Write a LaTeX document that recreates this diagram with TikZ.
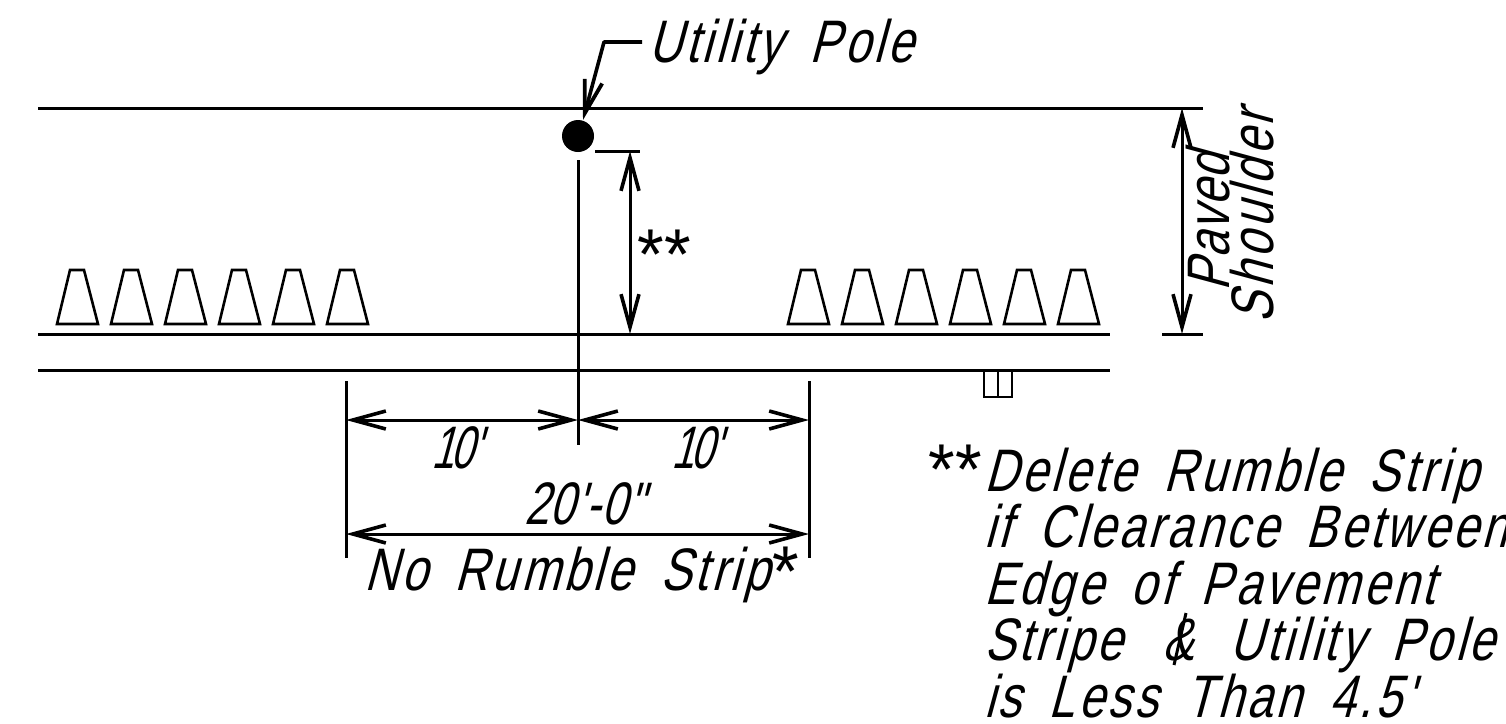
\documentclass[tikz,border=0pt]{standalone}
\usepackage{fontspec}
\usetikzlibrary{arrows.meta}
\newfontfamily\cadfont[FakeSlant=0.27,FakeStretch=0.78,LetterSpace=5.5,WordSpace=1.7]{Liberation Sans}
\newfontfamily\cadnum[FakeSlant=0.27,FakeStretch=0.74,LetterSpace=2]{Liberation Sans}
\newfontfamily\cadten[FakeSlant=0.27,FakeStretch=0.68,LetterSpace=-1]{Liberation Sans}
\newfontfamily\cadrot[FakeSlant=0.27,FakeStretch=0.78,LetterSpace=2]{Liberation Sans}
\newfontfamily\cadrotb[FakeSlant=0.27,FakeStretch=0.78,LetterSpace=6]{Liberation Sans}
\newfontfamily\cadstar[FakeStretch=0.95,LetterSpace=1]{Liberation Sans}
\newcommand{\bigstar}{\kern3pt\raisebox{-6pt}{\cadstar\fontsize{72}{60}\selectfont *}}
\tikzset{
  line/.style={line width=3pt,black},
  dim/.style={line width=3pt,black,{Straight Barb[length=33pt,width=18pt,line width=3.6pt]}-{Straight Barb[length=33pt,width=18pt,line width=3.6pt]}},
  oneway/.style={line width=3.6pt,black,-{Straight Barb[length=33pt,width=18pt,line width=3.8pt]}},
  cone/.style={line width=2.6pt,black,line join=miter},
  lab/.style={inner sep=0pt,outer sep=0pt,anchor=base west,font=\cadfont\fontsize{60}{60}\selectfont},
  numlab/.style={lab,font=\cadnum\fontsize{60}{60}\selectfont},
  tenlab/.style={lab,font=\cadten\fontsize{60}{60}\selectfont},
  rotlab/.style={lab,rotate=90,font=\cadrot\fontsize{60}{60}\selectfont},
  rotlabb/.style={lab,rotate=90,font=\cadrotb\fontsize{60}{60}\selectfont},
  starlab/.style={lab,font=\cadstar\fontsize{72}{60}\selectfont}
}
\begin{document}
\begin{tikzpicture}[x=1pt,y=-1pt]
\useasboundingbox (0,0) rectangle (1506,723);
% road lines
\coordinate (t1) at (38,108); \coordinate (t2) at (1203,108);
\coordinate (m1) at (38,334); \coordinate (m2) at (1110,334);
\coordinate (b1) at (38,370); \coordinate (b2) at (1110,370);
\draw[line] (t1) -- (t2);
\draw[line] (m1) -- (m2);
\draw[line] (b1) -- (b2);
% cones
\foreach \x in {57,111,165,219,273,327,788,842,896,950,1004,1058}{
  \draw[cone] (\x,324) -- (\x+13,270) -- (\x+27,270) -- (\x+41,324) -- cycle;
}
% pole
\node[circle,fill=black,minimum size=32pt,inner sep=0pt] (pole) at (578,136) {};
\coordinate (cl1) at (578,160); \coordinate (cl2) at (578,445);
\draw[line] (cl1) -- (cl2);
% leader
\coordinate (l1) at (642,42); \coordinate (l2) at (604,42); \coordinate (l3) at (583,120);
\draw[oneway,line join=round] (l1) -- (l2) -- (l3);
\node[lab] (utility) at (648,62) {Utility Pole};
% ** dimension
\coordinate (e1) at (595,151); \coordinate (e2) at (640,151);
\draw[line] (e1) -- (e2);
\coordinate (s1) at (630,151); \coordinate (s2) at (630,334);
\draw[dim] (s1) -- (s2);
\node[starlab] (stars) at (637,279) {**};
% paved shoulder dimension
\coordinate (p1) at (1182,108); \coordinate (p2) at (1182,334);
\draw[dim] (p1) -- (p2);
\coordinate (k1) at (1162,334); \coordinate (k2) at (1203,334);
\draw[line] (k1) -- (k2);
\node[rotlab] (paved) at (1229,291) {Paved};
\node[rotlabb] (shoulder) at (1273,323) {Shoulder};
% bottom dimensions
\coordinate (x1) at (346,381); \coordinate (x2) at (346,558);
\coordinate (y1) at (809,381); \coordinate (y2) at (809,558);
\draw[line] (x1) -- (x2);
\draw[line] (y1) -- (y2);
\coordinate (a1) at (346,420); \coordinate (a2) at (578,420); \coordinate (a3) at (809,420);
\draw[dim] (a1) -- (a2);
\draw[dim] (a2) -- (a3);
\coordinate (c1) at (346,534); \coordinate (c2) at (809,534);
\draw[dim] (c1) -- (c2);
\node[tenlab] (ten1) at (431,468) {1\kern-3pt 0'};
\node[tenlab] (ten2) at (671,468) {1\kern-3pt 0'};
\node[numlab] (twenty) at (524,524) {20'-0"};
\node[lab] (norumble) at (364,590) {No Rumble Strip\bigstar};
% small box
\draw[cone] (984,370) rectangle (1012,397);
\coordinate (bx1) at (998,370); \coordinate (bx2) at (998,397);
\draw[cone] (bx1) -- (bx2);
% note
\node[starlab] (n0) at (928,494) {**};
\node[lab] (n1) at (984,491) {Delete Rumble Strip};
\node[lab] (n2) at (984,547.5) {if Clearance Between};
\node[lab] (n3) at (984,604) {Edge of Pavement};
\node[lab] (n4) at (984,660.5) {Stripe\kern12pt{} \&\kern8pt{} Utility Pole};
\node[lab] (n5) at (984,717) {is Less Than 4.5'};
\coordinate (st1) at (1186,613); \coordinate (st2) at (1174,665);
\draw[line] (st1) -- (st2);
\end{tikzpicture}
\end{document}
